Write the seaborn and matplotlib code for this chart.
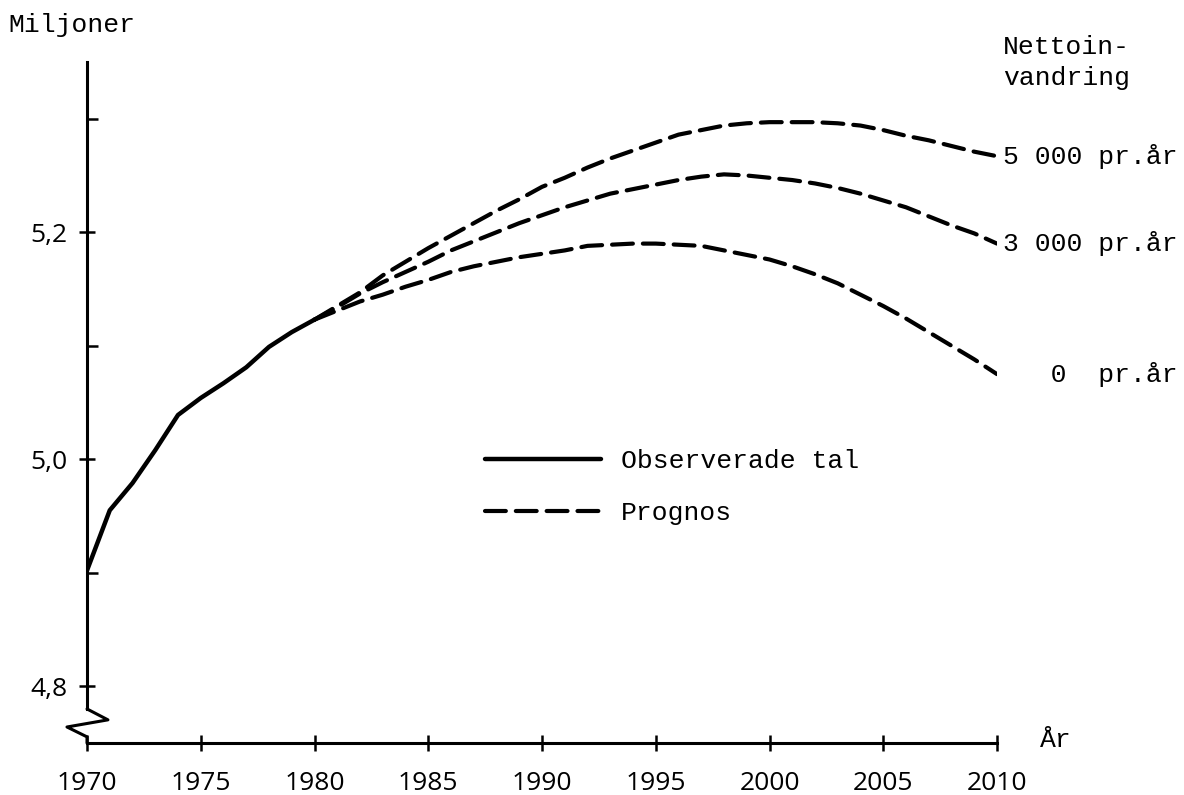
import matplotlib
matplotlib.use('Agg')
import pandas as pd
import matplotlib.pyplot as plt
import seaborn as sns
from matplotlib.lines import Line2D

# Observed population (millions)
obs_years = list(range(1970, 1981))
obs_values = [4.902, 4.955, 4.979, 5.008, 5.039, 5.054, 5.067, 5.081, 5.099, 5.112, 5.123]

# Forecasts 1980-2010 by net immigration
prog_years = list(range(1980, 2011))
prog_5000 = [5.123, 5.135, 5.147, 5.162, 5.174, 5.186, 5.197, 5.208, 5.219, 5.229, 5.240,
             5.248, 5.257, 5.265, 5.272, 5.279, 5.286, 5.290, 5.294, 5.296, 5.297,
             5.297, 5.297, 5.296, 5.294, 5.290, 5.285, 5.281, 5.276, 5.271, 5.267]
prog_3000 = [5.123, 5.134, 5.146, 5.156, 5.165, 5.174, 5.184, 5.192, 5.200, 5.208, 5.215,
             5.222, 5.228, 5.234, 5.238, 5.242, 5.246, 5.249, 5.251, 5.250, 5.248,
             5.246, 5.243, 5.239, 5.234, 5.228, 5.222, 5.214, 5.206, 5.199, 5.190]
prog_0 = [5.123, 5.131, 5.139, 5.145, 5.152, 5.158, 5.165, 5.170, 5.174, 5.178, 5.181,
          5.184, 5.188, 5.189, 5.190, 5.190, 5.189, 5.188, 5.184, 5.180, 5.176,
          5.170, 5.163, 5.155, 5.145, 5.135, 5.124, 5.112, 5.100, 5.088, 5.075]
prog_labels = ['5 000 pr.år', '3 000 pr.år', '   0  pr.år']

x_ticks = [1970, 1975, 1980, 1985, 1990, 1995, 2000, 2005, 2010]
y_ticks = [4.8, 5.0, 5.2]
y_labels = ['4,8', '5,0', '5,2']
y_minor = [4.9, 5.1, 5.3]

MONO = 'Liberation Mono'
NUM = 'Open Sans'
DASH = (0, (5, 2.4))


def visualize():
    sns.set_style('ticks')
    plt.rcParams['font.family'] = [NUM, 'DejaVu Sans']
    plt.rcParams['axes.edgecolor'] = 'black'
    plt.rcParams['xtick.color'] = 'black'
    plt.rcParams['ytick.color'] = 'black'
    plt.rcParams['text.color'] = 'black'

    fig = plt.figure(figsize=(11.84, 7.95), dpi=100)
    ax = fig.add_axes([87 / 1184, 1 - 743 / 795, 910 / 1184, 681 / 795])
    ax.set_xlim(1970, 2010)
    ax.set_ylim(4.75, 5.35)

    sns.lineplot(x=obs_years, y=obs_values, ax=ax, color='black', lw=3.2,
                 solid_joinstyle='round')
    for vals, lab in zip([prog_5000, prog_3000, prog_0], prog_labels):
        sns.lineplot(x=prog_years, y=vals, ax=ax, color='black', lw=3.0,
                     linestyle=DASH, dash_capstyle='round')
        ax.annotate(lab, xy=(prog_years[-1], vals[-1]), xytext=(4, 0),
                    textcoords='offset points', va='center', ha='left',
                    fontsize=19, family=MONO, annotation_clip=False)

    # Axes styling
    for s in ['top', 'right']:
        ax.spines[s].set_visible(False)
    ax.spines['left'].set_bounds(4.78, 5.35)
    ax.spines['left'].set_linewidth(2.2)
    ax.spines['bottom'].set_linewidth(2.2)

    # Axis break zigzag
    ax.plot([0, 0.023, -0.022, 0, 0], [0.050, 0.034, 0.0235, 0.009, 0],
            transform=ax.transAxes, color='black', lw=2.2, clip_on=False)

    ax.set_xticks(x_ticks)
    ax.set_xticklabels([str(x) for x in x_ticks])
    ax.set_yticks(y_ticks)
    ax.set_yticklabels(y_labels)
    ax.set_yticks(y_minor, minor=True)
    ax.tick_params(axis='x', bottom=True, direction='inout', length=11,
                   width=1.8, pad=15, labelsize=19, colors='black')
    ax.tick_params(axis='y', which='major', left=True, direction='inout',
                   length=12, width=1.8, pad=8, labelsize=19, colors='black')
    ax.tick_params(axis='y', which='minor', left=True, direction='in',
                   length=8, width=1.8, colors='black')
    ax.set_xlabel('')
    ax.set_ylabel('')

    # Legend
    handles = [Line2D([], [], color='black', lw=3.2),
               Line2D([], [], color='black', lw=3.0, linestyle=DASH,
                      dash_capstyle='round')]
    ax.legend(handles, ['Observerade tal', 'Prognos'], loc='center left',
              bbox_to_anchor=((485 - 87) / 910, (743 - 487) / 681),
              frameon=False, borderpad=0, borderaxespad=0,
              handlelength=4.4, handletextpad=0.75, labelspacing=1.05,
              prop={'family': MONO, 'size': 19})

    # Titles / annotations
    fig.text(8 / 1184, 1 - 25 / 795, 'Miljoner', family=MONO, fontsize=19,
             va='center', ha='left')
    fig.text(1003 / 1184, 1 - 47 / 795, 'Nettoin-', family=MONO, fontsize=19,
             va='center', ha='left')
    fig.text(1003 / 1184, 1 - 78 / 795, 'vandring', family=MONO, fontsize=19,
             va='center', ha='left')
    fig.text(1040 / 1184, 1 - 740 / 795, 'År', family=MONO, fontsize=19,
             va='center', ha='left')

    fig.savefig('out.png', dpi=100, facecolor='white')


if __name__ == '__main__':
    visualize()
